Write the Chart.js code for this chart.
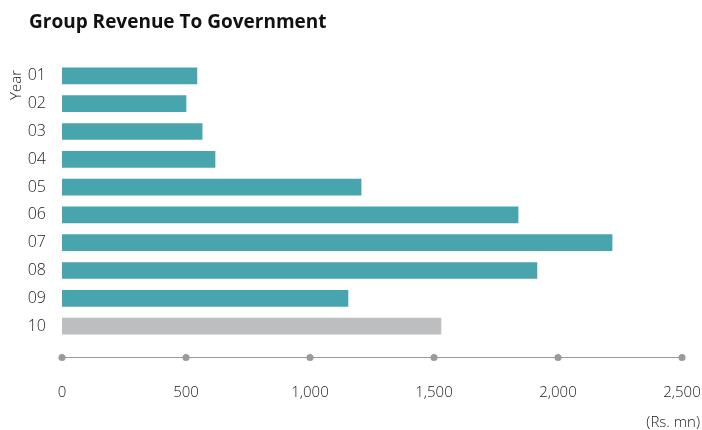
<!DOCTYPE html>
<html>
<head>
<meta charset="utf-8">
<script src="https://cdn.jsdelivr.net/npm/chart.js@4.4.1/dist/chart.umd.min.js"></script>
<style>
  html, body { margin: 0; padding: 0; background: #ffffff; }
  #wrap { position: relative; width: 702px; height: 430px; }
  canvas { display: block; }
</style>
</head>
<body>
<div id="wrap"><canvas id="c" width="702" height="430"></canvas></div>
<script>
const years = ["01", "02", "03", "04", "05", "06", "07", "08", "09", "10"];
const revenue = [544, 500, 565, 617, 1206, 1839, 2218, 1915, 1153, 1528];
const xTicks = [0, 500, 1000, 1500, 2000, 2500];
const titleText = "Group Revenue To Government";
const yAxisTitle = "Year";
const unitText = "(Rs. mn)";

const teal = "#48A5AD";
const grey = "#BDBEC0";
const barColors = years.map((y, i) => i === years.length - 1 ? grey : teal);
const labelFont = "'Open Sans', 'Noto Sans', sans-serif";
const textColor = "#222";

const decor = {
  id: 'decor',
  afterDraw(chart) {
    const ctx = chart.ctx;
    const xs = chart.scales.x;
    const area = chart.chartArea;
    ctx.save();
    // title
    ctx.fillStyle = "#111";
    ctx.font = "bold 19px 'Open Sans', 'Noto Sans', sans-serif";
    ctx.textAlign = "left";
    ctx.textBaseline = "alphabetic";
    ctx.fillText(titleText, 29, 28);
    // axis line with dots
    const yLine = area.bottom + 17;
    ctx.strokeStyle = "#9a9a9a";
    ctx.lineWidth = 1;
    ctx.beginPath();
    ctx.moveTo(xs.getPixelForValue(xTicks[0]), yLine + 0.5);
    ctx.lineTo(xs.getPixelForValue(xTicks[xTicks.length - 1]), yLine + 0.5);
    ctx.stroke();
    ctx.fillStyle = "#9a9a9a";
    xTicks.forEach(v => {
      ctx.beginPath();
      ctx.arc(xs.getPixelForValue(v), yLine + 0.5, 3.5, 0, Math.PI * 2);
      ctx.fill();
    });
    // Year label
    ctx.fillStyle = textColor;
    ctx.font = "300 15px " + labelFont;
    ctx.save();
    ctx.translate(21, 70);
    ctx.rotate(-Math.PI / 2);
    ctx.textAlign = "right";
    ctx.textBaseline = "alphabetic";
    ctx.fillText(yAxisTitle, 0, 0);
    ctx.restore();
    // unit label
    ctx.textAlign = "right";
    ctx.textBaseline = "middle";
    ctx.fillText(unitText, 700, 423);
    ctx.restore();
  }
};

new Chart(document.getElementById('c'), {
  type: 'bar',
  data: {
    labels: years,
    datasets: [{
      data: revenue,
      backgroundColor: barColors,
      borderWidth: 0,
      barThickness: 16
    }]
  },
  options: {
    indexAxis: 'y',
    responsive: false,
    animation: false,
    layout: { padding: { top: 62, right: 20, left: 0, bottom: 0 } },
    plugins: { legend: { display: false }, tooltip: { enabled: false }, title: { display: false } },
    scales: {
      x: {
        type: 'linear',
        min: 0,
        max: 2500,
        afterBuildTicks(scale) { scale.ticks = xTicks.map(v => ({ value: v })); },
        afterFit(scale) { scale.height = 90; scale.paddingLeft = 0; scale.paddingRight = 0; },
        grid: { display: false, drawTicks: false, tickLength: 0 },
        border: { display: false },
        ticks: {
          padding: 44,
          maxRotation: 0,
          autoSkip: false,
          color: textColor,
          font: { family: labelFont, size: 15, weight: 300 },
          callback: v => v.toLocaleString('en-US')
        }
      },
      y: {
        afterFit(scale) { scale.width = 62; scale.paddingTop = 0; scale.paddingBottom = 0; },
        grid: { display: false, drawTicks: false, tickLength: 0 },
        border: { display: false },
        ticks: {
          padding: 16,
          color: textColor,
          font: { family: labelFont, size: 16, weight: 300 }
        }
      }
    }
  },
  plugins: [decor]
});
</script>
</body>
</html>
